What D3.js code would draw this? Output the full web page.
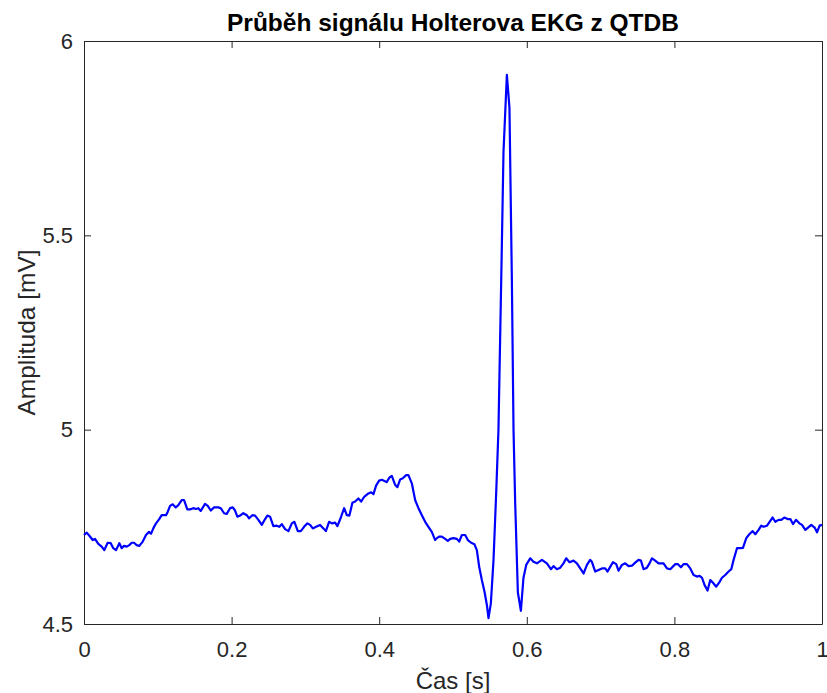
<!DOCTYPE html>
<html>
<head>
<meta charset="utf-8">
<script src="https://cdn.jsdelivr.net/npm/d3@7"></script>
<style>
  html, body { margin: 0; padding: 0; background: #fff; }
  text { font-family: "Liberation Sans", Arial, Helvetica, sans-serif; fill: #262626; }
</style>
</head>
<body>
<svg id="chart" width="827" height="693"></svg>
<script>
// Holter ECG record from QTDB, one second of signal
const timeSec = [
  0, 0.0037, 0.0081, 0.0118, 0.0149, 0.0194, 0.0240, 0.0275, 0.0321, 0.0362,
  0.0397, 0.0434, 0.0479, 0.0511, 0.0542, 0.0579, 0.0614, 0.0647, 0.0678, 0.0714,
  0.0750, 0.0796, 0.0840, 0.0881, 0.0908, 0.0939, 0.0976, 0.1017, 0.1053, 0.1112,
  0.1135, 0.1166, 0.1202, 0.1243, 0.1278, 0.1324, 0.1356, 0.1400, 0.1437, 0.1482,
  0.1518, 0.1549, 0.1582, 0.1640, 0.1677, 0.1718, 0.1762, 0.1821, 0.1853, 0.1898,
  0.1934, 0.1979, 0.2016, 0.2047, 0.2078, 0.2115, 0.2159, 0.2206, 0.2237, 0.2281,
  0.2318, 0.2363, 0.2409, 0.2454, 0.2485, 0.2521, 0.2566, 0.2612, 0.2647, 0.2680,
  0.2725, 0.2770, 0.2816, 0.2851, 0.2897, 0.2938, 0.2982, 0.3027, 0.3064, 0.3100,
  0.3145, 0.3199, 0.3244, 0.3277, 0.3321, 0.3358, 0.3403, 0.3434, 0.3484, 0.3525,
  0.3561, 0.3596, 0.3637, 0.3674, 0.3718, 0.3755, 0.3800, 0.3854, 0.3891, 0.3922,
  0.3958, 0.3999, 0.4036, 0.4071, 0.4101, 0.4139, 0.4171, 0.4216, 0.4247, 0.4284,
  0.4320, 0.4365, 0.4396, 0.4442, 0.4487, 0.4532, 0.4578, 0.4623, 0.4667, 0.4713,
  0.4758, 0.4781, 0.4816, 0.4849, 0.4894, 0.4930, 0.4962, 0.5006, 0.5052, 0.5084,
  0.5120, 0.5165, 0.5201, 0.5246, 0.5291, 0.5323, 0.5355, 0.5391, 0.5427, 0.5459,
  0.5481, 0.5513, 0.5549, 0.5585, 0.5616, 0.5662, 0.5684, 0.5730, 0.5765, 0.5798,
  0.5820, 0.5843, 0.5879, 0.5920, 0.5955, 0.5992, 0.6046, 0.6091, 0.6137, 0.6205,
  0.6272, 0.6327, 0.6362, 0.6408, 0.6453, 0.6497, 0.6534, 0.6579, 0.6633, 0.6679,
  0.6724, 0.6769, 0.6815, 0.6859, 0.6882, 0.6927, 0.6972, 0.7018, 0.7063, 0.7094,
  0.7130, 0.7167, 0.7212, 0.7243, 0.7289, 0.7334, 0.7379, 0.7425, 0.7469, 0.7514,
  0.7547, 0.7582, 0.7628, 0.7663, 0.7696, 0.7740, 0.7785, 0.7853, 0.7899, 0.7944,
  0.8012, 0.8048, 0.8089, 0.8124, 0.8170, 0.8215, 0.8260, 0.8306, 0.8341, 0.8374,
  0.8409, 0.8449, 0.8486, 0.8523, 0.8567, 0.8608, 0.8645, 0.8689, 0.8734, 0.8771,
  0.8802, 0.8848, 0.8893, 0.8929, 0.8974, 0.9015, 0.9060, 0.9096, 0.9141, 0.9177,
  0.9209, 0.9255, 0.9290, 0.9331, 0.9367, 0.9412, 0.9448, 0.9489, 0.9534, 0.9571,
  0.9607, 0.9648, 0.9693, 0.9729, 0.9774, 0.9811, 0.9855, 0.9900, 0.9932, 0.9968,
  1.0
];

const amplitudeMv = [
  4.729, 4.735, 4.725, 4.716, 4.719, 4.706, 4.699, 4.690, 4.709, 4.708,
  4.695, 4.690, 4.708, 4.695, 4.701, 4.699, 4.703, 4.709, 4.709, 4.703,
  4.701, 4.712, 4.729, 4.737, 4.732, 4.746, 4.759, 4.769, 4.780, 4.780,
  4.789, 4.804, 4.808, 4.800, 4.806, 4.819, 4.819, 4.795, 4.795, 4.798,
  4.796, 4.798, 4.791, 4.809, 4.804, 4.792, 4.800, 4.800, 4.798, 4.785,
  4.783, 4.798, 4.800, 4.792, 4.776, 4.779, 4.785, 4.780, 4.772, 4.780,
  4.779, 4.768, 4.755, 4.770, 4.779, 4.776, 4.752, 4.753, 4.750, 4.757,
  4.744, 4.739, 4.759, 4.763, 4.739, 4.739, 4.750, 4.759, 4.755, 4.746,
  4.750, 4.755, 4.746, 4.739, 4.763, 4.759, 4.761, 4.752, 4.776, 4.798,
  4.780, 4.779, 4.812, 4.815, 4.823, 4.815, 4.828, 4.836, 4.839, 4.834,
  4.856, 4.869, 4.871, 4.868, 4.865, 4.877, 4.881, 4.858, 4.852, 4.872,
  4.875, 4.883, 4.883, 4.862, 4.819, 4.798, 4.780, 4.763, 4.750, 4.737,
  4.716, 4.721, 4.725, 4.725, 4.719, 4.714, 4.719, 4.721, 4.719, 4.712,
  4.729, 4.729, 4.716, 4.709, 4.705, 4.690, 4.647, 4.613, 4.583, 4.549,
  4.515, 4.553, 4.665, 4.836, 5.000, 5.475, 5.713, 5.913, 5.828, 5.380,
  5.000, 4.809, 4.581, 4.534, 4.619, 4.652, 4.669, 4.660, 4.656, 4.665,
  4.656, 4.641, 4.649, 4.641, 4.645, 4.656, 4.669, 4.659, 4.663, 4.656,
  4.643, 4.630, 4.652, 4.665, 4.660, 4.635, 4.639, 4.643, 4.643, 4.635,
  4.647, 4.659, 4.654, 4.637, 4.652, 4.656, 4.649, 4.650, 4.658, 4.665,
  4.663, 4.641, 4.645, 4.656, 4.669, 4.663, 4.656, 4.656, 4.643, 4.641,
  4.654, 4.654, 4.646, 4.654, 4.654, 4.643, 4.626, 4.622, 4.624, 4.619,
  4.600, 4.586, 4.613, 4.606, 4.596, 4.607, 4.619, 4.626, 4.635, 4.641,
  4.665, 4.695, 4.695, 4.696, 4.721, 4.731, 4.739, 4.731, 4.742, 4.753,
  4.750, 4.753, 4.763, 4.774, 4.763, 4.768, 4.768, 4.774, 4.770, 4.770,
  4.757, 4.768, 4.759, 4.755, 4.742, 4.748, 4.755, 4.748, 4.736, 4.753,
  4.755
];

const xTicks = [0, 0.2, 0.4, 0.6, 0.8, 1];
const yTicks = [4.5, 5, 5.5, 6];
const titleText = "Průběh signálu Holterova EKG z QTDB";
const xLabelText = "Čas [s]";
const yLabelText = "Amplituda [mV]";

const svg = d3.select("#chart");
const plot = { left: 84, right: 822, top: 41, bottom: 624 };
const axisColor = "#262626";
const tickLen = 7;
const fontStack = '"Liberation Sans", Arial, sans-serif';

const x = d3.scaleLinear().domain([0, 1]).range([plot.left, plot.right]);
const y = d3.scaleLinear().domain([4.5, 6]).range([plot.bottom, plot.top]);

const tickFmt = d => String(+d.toFixed(2));

// bottom and left axes with inward ticks
const gx = svg.append("g").attr("transform", `translate(0,${plot.bottom})`)
  .call(d3.axisBottom(x).tickValues(xTicks).tickSizeInner(-tickLen).tickSizeOuter(0).tickPadding(17).tickFormat(tickFmt));
const gy = svg.append("g").attr("transform", `translate(${plot.left},0)`)
  .call(d3.axisLeft(y).tickValues(yTicks).tickSizeInner(-tickLen).tickSizeOuter(0).tickPadding(11).tickFormat(tickFmt));
// mirrored top and right axes closing the box
const gxt = svg.append("g").attr("transform", `translate(0,${plot.top})`)
  .call(d3.axisTop(x).tickValues(xTicks).tickSizeInner(-tickLen).tickSizeOuter(0).tickFormat(""));
const gyr = svg.append("g").attr("transform", `translate(${plot.right},0)`)
  .call(d3.axisRight(y).tickValues(yTicks).tickSizeInner(-tickLen).tickSizeOuter(0).tickFormat(""));

[gx, gy, gxt, gyr].forEach(g => {
  g.select(".domain").attr("stroke", axisColor).attr("stroke-width", 1);
  g.selectAll(".tick line").attr("stroke", axisColor).attr("stroke-width", 1);
  g.selectAll(".tick text").attr("fill", axisColor)
    .style("font-family", fontStack).style("font-size", "22px");
});

// signal trace
const line = d3.line()
  .x((d, i) => x(timeSec[i]))
  .y(d => y(d));

svg.append("path")
  .datum(amplitudeMv)
  .attr("fill", "none")
  .attr("stroke", "#0000ff")
  .attr("stroke-width", 2.2)
  .attr("stroke-linejoin", "round")
  .attr("d", line);

// title and axis labels
svg.append("text")
  .attr("x", (plot.left + plot.right) / 2).attr("y", 31)
  .attr("text-anchor", "middle")
  .style("font-size", "24.5px").style("font-weight", "bold").style("fill", "#000")
  .text(titleText);

svg.append("text")
  .attr("x", (plot.left + plot.right) / 2).attr("y", 689)
  .attr("text-anchor", "middle")
  .style("font-size", "24px")
  .text(xLabelText);

svg.append("text")
  .attr("transform", `translate(35,${(plot.top + plot.bottom) / 2}) rotate(-90)`)
  .attr("text-anchor", "middle")
  .style("font-size", "24.5px")
  .text(yLabelText);
</script>
</body>
</html>
